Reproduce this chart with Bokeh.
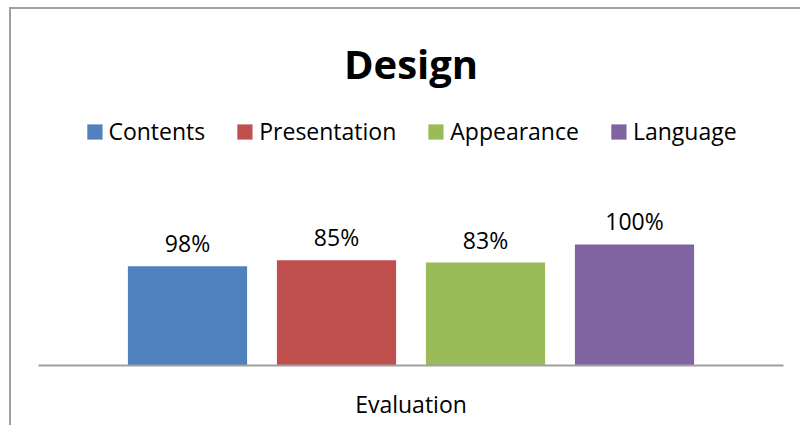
from bokeh.plotting import figure
from bokeh.models import FactorRange, Range1d, LabelSet, ColumnDataSource
from bokeh.transform import dodge
from bokeh.core.properties import value
from bokeh.embed import file_html
from bokeh.resources import INLINE

# ---- data ----
category = ["Evaluation"]
series = ["Contents", "Presentation", "Appearance", "Language"]
values = [4.1, 4.35, 4.25, 5.0]
labels = ["98%", "85%", "83%", "100%"]
colors = ["#4F81BD", "#C0504D", "#9BBB59", "#8064A2"]
offsets = [-0.3, -0.1, 0.1, 0.3]

FONT = "Open Sans"

p = figure(width=791, height=418,
           x_range=FactorRange(factors=category, range_padding=0),
           y_range=Range1d(0, 10.74),
           output_backend="svg", toolbar_location=None,
           min_border_left=27, min_border_right=19,
           min_border_top=96, min_border_bottom=62)

# chart border (left and top edges visible in the window)
p.styles = {"margin-left": "9px", "margin-top": "7px",
            "border-left": "2px solid #A0A0A0", "border-top": "2px solid #A0A0A0"}

for s, v, lab, c, off in zip(series, values, labels, colors, offsets):
    src = ColumnDataSource(dict(cat=category, val=[v], lab=[lab]))
    p.vbar(x=dodge("cat", off, range=p.x_range), top="val", width=0.16,
           source=src, fill_color=c, line_color=None, legend_label=s)
    p.add_layout(LabelSet(x=dodge("cat", off, range=p.x_range), y="val", text="lab",
                          source=src, text_align="center", text_baseline="middle",
                          y_offset=23, text_font=value(FONT), text_font_size="23px",
                          text_color="black"))

# title
p.title.text = "Design"
p.title.align = "center"
p.title.text_font = FONT
p.title.text_font_size = "40px"
p.title.text_font_style = "bold"
p.title.text_color = "black"
p.title.standoff = 29

# axes
p.yaxis.visible = False
p.xgrid.visible = False
p.ygrid.visible = False
p.xaxis.axis_line_color = "#A0A0A0"
p.xaxis.axis_line_width = 2
p.xaxis.major_tick_line_color = None
p.xaxis.minor_tick_line_color = None
p.xaxis.major_label_text_font = FONT
p.xaxis.major_label_text_font_size = "23px"
p.xaxis.major_label_text_color = "black"
p.xaxis.major_label_standoff = 16
p.outline_line_color = None

# legend
lg = p.legend[0]
lg.orientation = "horizontal"
lg.location = "top_center"
lg.glyph_width = 19
lg.glyph_height = 19
lg.label_standoff = 5
lg.spacing = 30
lg.padding = 0
lg.margin = 10
lg.border_line_color = None
lg.background_fill_alpha = 0
lg.label_text_font = FONT
lg.label_text_font_size = "23px"
lg.label_text_color = "black"

open("out.html", "w").write(file_html(p, INLINE))
